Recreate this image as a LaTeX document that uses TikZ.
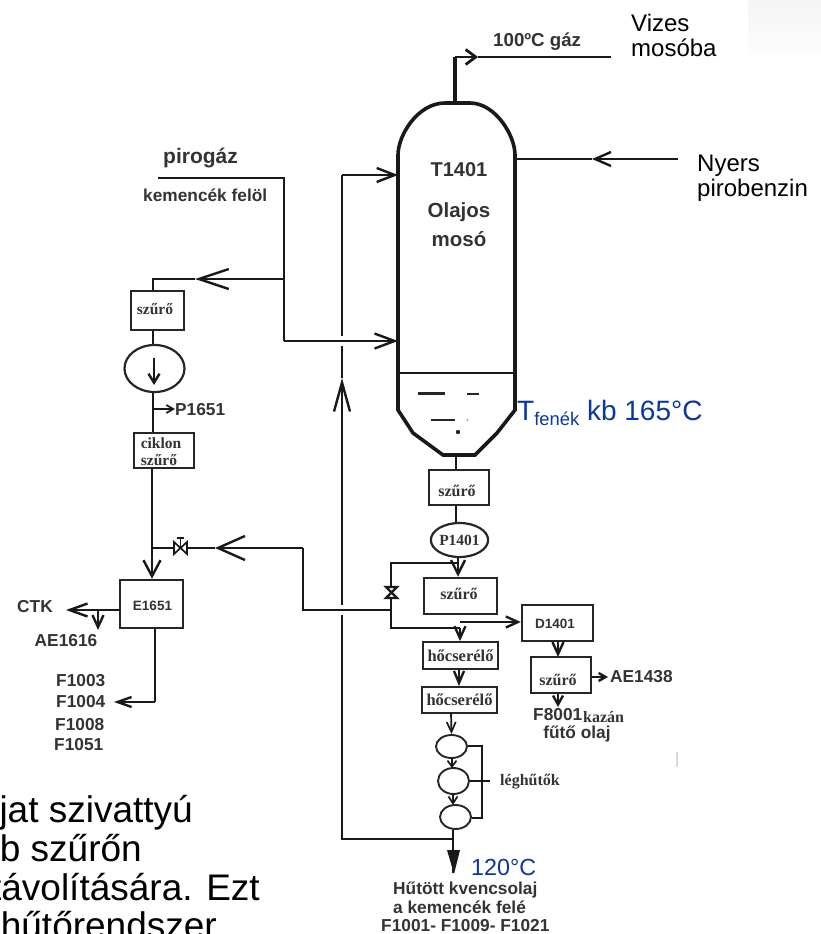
\documentclass[tikz,border=0pt]{standalone}
\usepackage{fontspec}
\setmainfont{Liberation Sans}
\newfontfamily\serifb{Liberation Serif}[BoldFont={Liberation Serif Bold}]
\usepackage{tikz}
\usetikzlibrary{arrows.meta,shapes.geometric}
\definecolor{noteblue}{RGB}{10,55,160}
\newcommand{\fsz}[1]{\fontsize{#1}{#1}\selectfont}

\begin{document}
\begin{tikzpicture}[x=1pt,y=-1pt,
  pipe/.style={draw=black!90,line width=2.4pt},
  wall/.style={draw=black!90,line width=3.6pt},
  thin/.style={draw=black!90,line width=1.7pt},
  barb/.style 2 args={-{Straight Barb[length=#1pt,width=#2pt]}},
  unit/.style={draw=black!85,line width=1.9pt,inner sep=0pt,fill=white},
  roundunit/.style={unit,ellipse,line width=2.2pt},
  tag/.style={text=black!80,font=\bfseries\fsz{17.3},inner sep=0pt},
  serif/.style={text=black!80,font=\serifb\bfseries\fsz{16},inner sep=0pt},
  plain/.style={text=black,align=left,inner sep=0pt,font=\fsz{24}},
  note/.style={text=black,inner sep=0pt,font=\fsz{37}}]
 \useasboundingbox (0,0) rectangle (821,934);
 \clip (0,0) rectangle (821,934);
 \shade[top color=black!4,bottom color=black!1] (748,0) rectangle (821,55);
 \draw[black!15,line width=2pt] (677,752)--(677,767);
 % column
 \coordinate (topc) at (455,103);
 \coordinate (botc) at (456,455);
 \coordinate (wallL) at (398,175);
 \coordinate (wallLb) at (398,341);
 \coordinate (wallR) at (515,159);
 \draw[wall] (398,410)--(398,155) .. controls (398,135) and (418,103) .. (445,103)
   --(470,103) .. controls (495,103) and (515,135) .. (515,155)--(515,410)
   --(497,433)--(475,455)--(443,455)--(413,433)--cycle;
 \draw[wall,line width=2.8pt] (398,373)--(515,373);
 \foreach \xa/\xb/\yy/\wd in {418/445/393/3,467/479/394/2.6,431/455/420/2.4}
  {\draw[black!85,line width=\wd pt] (\xa,\yy)--(\xb,\yy);}
 \fill[black!85] (458,432) circle (2.2);
 \fill[black!35] (467.5,420) circle (1.2);
 \node[tag,font=\bfseries\fsz{20}] (tower) at (459,170) {T1401};
 \node[tag,font=\bfseries\fsz{20.5}] (towera) at (459,212) {Olajos};
 \node[tag,font=\bfseries\fsz{20.5}] (towerb) at (459,239) {mosó};
 % overhead and feed
 \coordinate (ovknee) at (455,57);
 \coordinate (ovtip) at (478,57);
 \coordinate (ovend) at (611,57);
 \draw[wall] (topc)--(ovknee);
 \draw[pipe,line width=2.8pt,barb={10}{15}] (ovknee)--(ovtip);
 \draw[pipe,line width=2.8pt] (ovtip)--(ovend);
 \node[tag,anchor=west,font=\bfseries\fsz{18.7}] (ovtext) at (493,42) {100ºC gáz};
 \node[plain,anchor=west] (vizes) at (631,35) {Vizes\\[1pt]mosóba};
 \coordinate (feedend) at (678,159);
 \coordinate (feedtip) at (592,159);
 \draw[pipe,barb={16}{14}] (feedend)--(feedtip);
 \draw[pipe] (feedtip)--(wallR);
 \node[plain,anchor=west] (nyers) at (697,178) {Nyers\\[1pt]pirobenzin};
 % pirogaz
 \coordinate (piroa) at (158,178);
 \coordinate (pirob) at (284,178);
 \coordinate (piroc) at (284,279);
 \coordinate (pirod) at (284,341);
 \coordinate (piroe) at (195,279);
 \coordinate (pirof) at (153,279);
 \draw[pipe] (piroa)--(pirob)--(pirod);
 \draw[pipe,barb={20}{15}] (pirod)--(wallLb);
 \draw[pipe,barb={30}{20}] (piroc)--(piroe);
 \node[tag,anchor=west,font=\bfseries\fsz{21}] (pirotext) at (163,158) {pirogáz};
 \node[tag,anchor=west] (kemtext) at (143,195) {kemencék felöl};
 % left train
 \node[unit,minimum width=53pt,minimum height=39pt] (filta) at (157.5,310.5) {};
 \node[serif,font=\serifb\bfseries\fsz{15.5}] (filtatext) at (155,309) {szűrő};
 \node[roundunit,minimum width=60pt,minimum height=47pt] (pumpa) at (154.5,368.5) {};
 \coordinate (pumpin) at (154,358);
 \coordinate (pumpout) at (154,385);
 \draw[pipe,barb={9}{11}] (pumpin)--(pumpout);
 \node[unit,minimum width=60pt,minimum height=35pt] (ciklon) at (164,450.5) {};
 \node[serif,font=\serifb\bfseries\fsz{15.5}] (ciklontext) at (161,443) {ciklon};
 \node[serif,font=\serifb\bfseries\fsz{15.5}] (ciklonb) at (159,460) {szűrő};
 \coordinate (trainb) at (153,409);
 \coordinate (trainc) at (175,409);
 \draw[pipe] (piroe)--(pirof)--(filta.north -| pirof);
 \draw[pipe] (filta.south -| pirof)--(pumpa.north -| pirof);
 \draw[pipe] (pumpa.south -| trainb)--(ciklon.north -| trainb);
 \draw[thin,barb={7}{8}] (trainb)--(trainc);
 \node[tag,anchor=west] (ptext) at (175,410) {P1651};
 \node[unit,line width=2.5pt,minimum width=63pt,minimum height=48pt] (coolE) at (151.5,604) {};
 \node[tag,font=\bfseries\fsz{13.5}] (coolEtext) at (152.5,606) {E1651};
 \coordinate (mixa) at (152,548);
 \draw[pipe] (ciklon.south -| mixa)--(mixa);
 \draw[pipe,barb={16}{17}] (mixa)--(coolE.north -| mixa);
 \coordinate (ctk) at (66,610);
 \coordinate (aea) at (98,610);
 \coordinate (aeb) at (98,630);
 \coordinate (oila) at (155,702);
 \coordinate (oilb) at (114,702);
 \draw[pipe,barb={18}{13}] (coolE.west |- ctk)--(ctk);
 \draw[pipe,barb={12}{11}] (aea)--(aeb);
 \draw[pipe] (coolE.south -| oila)--(oila);
 \draw[pipe,barb={14}{10}] (oila)--(oilb);
 \node[tag,anchor=west] (ctktext) at (17,607) {CTK};
 \node[tag] (aetext) at (66,641) {AE1616};
 \node[tag,anchor=west] (fa) at (56,681) {F1003};
 \node[tag,anchor=west] (fb) at (56,702) {F1004};
 \node[tag,anchor=west] (fc) at (55,725) {F1008};
 \node[tag,anchor=west] (fd) at (54,745) {F1051};
 % recycle
 \coordinate (rctip) at (215,548);
 \coordinate (rca) at (303,548);
 \coordinate (rcb) at (303,610);
 \coordinate (rcc) at (391,610);
 \draw[pipe,barb={27}{24}] (rca)--(rctip);
 \draw[pipe] (rctip)--(mixa);
 \draw[pipe] (rca)--(rcb)--(rcc);
 \draw[thin,fill=white] (174,542)--(187,554)--(187,542)--(174,554)--cycle;
 \draw[thin] (180.5,548)--(180.5,538) (177,538)--(184,538);
 % return line
 \coordinate (retend) at (453,839);
 \coordinate (reta) at (342,839);
 \coordinate (retb) at (342,615);
 \coordinate (retc) at (342,605);
 \coordinate (retd) at (342,378);
 \coordinate (rete) at (342,346);
 \coordinate (retf) at (342,336);
 \coordinate (retg) at (342,175);
 \draw[pipe] (retend)--(reta)--(retb);
 \draw[pipe,barb={29}{16}] (retc)--(retd);
 \draw[pipe] (retd)--(rete);
 \draw[pipe] (retf)--(retg);
 \draw[pipe,barb={18}{14}] (retg)--(wallL);
 % bottoms train
 \node[unit,minimum width=60pt,minimum height=35pt] (filtb) at (459,487.5) {};
 \node[serif] (filtbtext) at (457,491) {szűrő};
 \node[roundunit,minimum width=57pt,minimum height=34pt,font=\serifb\bfseries\fsz{15.5},text=black!80] (pumpb) at (459.5,540) {P1401};
 \node[unit,line width=2.5pt,minimum width=73pt,minimum height=36pt] (filtc) at (460.5,596) {};
 \node[serif] (filtctext) at (459,594) {szűrő};
 \coordinate (byA) at (391,563);
 \coordinate (byB) at (391,628);
 \coordinate (byC) at (458,563);
 \coordinate (byD) at (460,628);
 \coordinate (byE) at (460,622);
 \draw[pipe] (botc)--(botc |- filtb.north);
 \draw[pipe] (botc |- filtb.south)--(botc |- pumpb.north);
 \draw[pipe,barb={14}{14}] (pumpb.south -| byC)--(filtc.north -| byC);
 \draw[pipe] (byC)--(byA)--(byB)--(byD);
 \draw[pipe,fill=white] (386,587)--(397,587)--(386,598)--(397,598)--cycle;
 \node[unit,line width=2.5pt,minimum width=71pt,minimum height=36pt] (drum) at (557.5,623) {};
 \node[tag,font=\bfseries\fsz{13.5}] (drumtext) at (555,624) {D1401};
 \draw[pipe,barb={12}{11}] (byE)--(drum.west |- byE);
 \node[unit,line width=2.2pt,minimum width=60pt,minimum height=36pt] (filtd) at (561,675) {};
 \node[serif] (filtdtext) at (558,680) {szűrő};
 \draw[pipe,barb={12}{11}] (558,641)--(558,657);
 \coordinate (aeg) at (608,677);
 \coordinate (fh) at (558,707);
 \draw[pipe,barb={7}{8}] (filtd.east |- aeg)--(aeg);
 \draw[pipe,barb={9}{10}] (filtd.south -| fh)--(fh);
 \node[tag,anchor=west] (aegtext) at (610,677) {AE1438};
 \node[tag,anchor=west] (fhtext) at (533,715) {F8001};
 \node[serif,anchor=west] (kazan) at (583,717) {kazán};
 \node[tag] (futo) at (577,734) {fűtő olaj};
 \node[unit,minimum width=75pt,minimum height=27pt,font=\serifb\bfseries\fsz{16.5},text=black!80] (hxa) at (460.5,655.5) {hőcserélő};
 \node[unit,minimum width=75pt,minimum height=26pt,font=\serifb\bfseries\fsz{16.5},text=black!80] (hxb) at (459.5,700) {hőcserélő};
 \draw[pipe,barb={12}{11}] (byD)--(byD |- hxa.north);
 \coordinate (hxc) at (459,669);
 \draw[pipe,barb={12}{10}] (hxc)--(hxc |- hxb.north);
 \node[roundunit,line width=1.9pt,minimum width=31pt,minimum height=23pt] (aira) at (451.5,746.5) {};
 \node[roundunit,line width=1.9pt,minimum width=31pt,minimum height=26pt] (airb) at (453.5,781) {};
 \node[roundunit,line width=1.9pt,minimum width=31pt,minimum height=24pt] (airc) at (455.5,817) {};
 \draw[thin,barb={10}{9}] (451,713)--(aira.north);
 \draw[thin,barb={6}{9}] (452,758)--(452,768);
 \draw[thin,barb={7}{9}] (453,794)--(453,805);
 \coordinate (brka) at (482,746);
 \coordinate (brkb) at (482,781);
 \coordinate (brkc) at (482,818);
 \coordinate (brkd) at (490,781);
 \draw[thin] (aira.east |- brka)--(brka)--(brkc)--(airc.east |- brkc);
 \draw[thin] (airb.east)--(brkd);
 \node[serif,anchor=west] (airtext) at (500,782) {léghűtők};
 \coordinate (prod) at (453,873);
 \draw[pipe] (airc.south -| prod)--(prod);
 \fill[black!90] (447,850)--(460,850)--(454,874)--cycle;
 \node[anchor=west,inner sep=0pt,text=noteblue,font=\fsz{23.3}] (cool) at (471,867) {120°C};
 \node[tag,anchor=west] (proda) at (393,890) {Hűtött kvencsolaj};
 \node[tag,anchor=west] (prodb) at (393,907) {a kemencék felé};
 \node[tag,anchor=west] (prodc) at (381,926) {F1001- F1009- F1021};
 \node[anchor=base west,inner sep=0pt,text=noteblue,font=\fsz{28}] (hot) at (517,420)
   {T\raisebox{-5pt}{\fsz{18.4}fenék} kb 165°C};
 % cut text
 \node[note,anchor=base east] (lna) at (193,822) {jat szivattyú};
 \node[note,anchor=base east] (lnb) at (142,861) {b szűrőn};
 \node[note,anchor=base east] (lnc) at (260,900) {távolítására. Ezt};
 \node[note,anchor=base east] (lnd) at (217,938) {hűtőrendszer};
\end{tikzpicture}
\end{document}
